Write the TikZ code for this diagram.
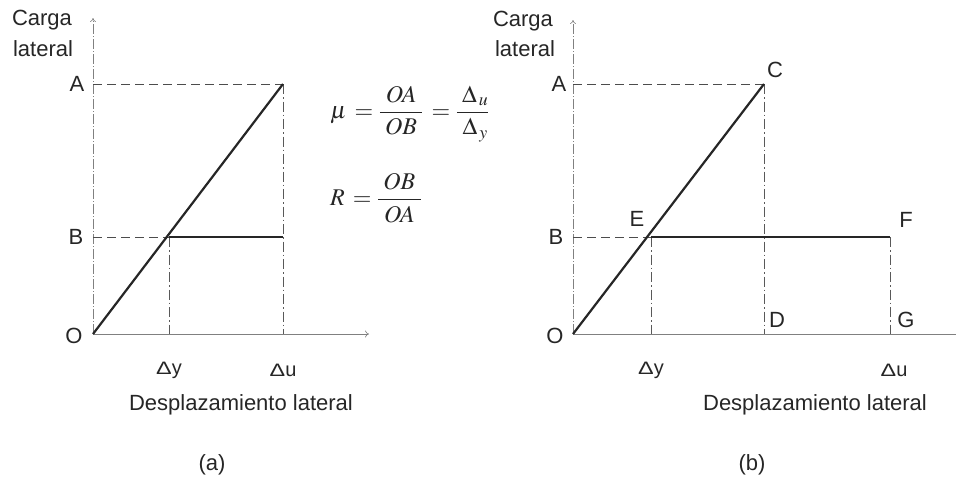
\documentclass[tikz,border=0pt]{standalone}
\usepackage{mathptmx}
\usepackage{graphicx}
\usepackage[no-math]{fontspec}
\setmainfont{Liberation Sans}
\usetikzlibrary{arrows.meta}
\newcommand{\wideDelta}{\scalebox{1.3}[1]{Δ}}
\begin{document}
\begin{tikzpicture}[x=1pt,y=-1pt,
  axis/.style={draw=black!50,line width=0.6pt},
  yaxis/.style={draw=black!50,line width=0.6pt,dash pattern=on 10pt off 2pt on 1pt off 2pt},
  guide/.style={draw=black!70,line width=0.7pt,dash pattern=on 9pt off 5pt},
  vguide/.style={draw=black!65,line width=0.7pt,dash pattern=on 10pt off 3pt on 1.5pt off 3pt},
  curve/.style={draw=black!85,line width=2.2pt},
  lbl/.style={font=\fontsize{22}{24}\selectfont,text=black!85,inner sep=0pt},
  dlbl/.style={font=\fontsize{18}{20}\selectfont,text=black!85,inner sep=0pt},
  eq/.style={font=\fontsize{24}{28}\selectfont,text=black!85,inner sep=0pt}]
\useasboundingbox (0,0) rectangle (956,480);
% ---------- panel (a)
\coordinate (aO) at (93,334);
\coordinate (aYtop) at (93,18);
\coordinate (aXend) at (369,334);
\coordinate (aA) at (93,84);
\coordinate (aB) at (93,237);
\coordinate (aC) at (283,84);
\coordinate (aE) at (169,237);
\coordinate (aF) at (283,237);
\coordinate (aDy) at (169,334);
\coordinate (aDu) at (283,334);
\draw[yaxis,-{To[length=4pt,width=6pt]}] (aO) -- (aYtop);
\draw[axis,-{To[length=4pt,width=7pt]}] (aO) -- (aXend);
\draw[guide] (aA) -- (aC);
\draw[guide] (aB) -- (aE);
\draw[vguide] (aC) -- (aDu);
\draw[vguide] (aE) -- (aDy);
\draw[curve] (aO) -- (aC);
\draw[curve] (aE) -- (aF);
\node[lbl] (aCarga) at (42,20) {Carga};
\node[lbl] (aLat) at (43,49) {lateral};
\node[lbl] (aAl) at (77,84) {A};
\node[lbl] (aBl) at (76,237) {B};
\node[lbl] (aOl) at (74,336) {O};
\node[dlbl] (aDyl) at (169,370) {\wideDelta{\fontsize{20}{20}\selectfont y}};
\node[dlbl] (aDul) at (283,370) {\wideDelta{\fontsize{20}{20}\selectfont u}};
\node[lbl] (aXl) at (241,405) {Desplazamiento lateral};
\node[lbl] (acap) at (212,465) {(a)};
\node[eq,anchor=west] (mu) at (330,114) {$\displaystyle\mu\,=\frac{\;OA\;}{\;OB\;}\,=\frac{\;\Delta_{\,u}}{\;\Delta_{\,y}}$};
\node[eq,anchor=west] (R) at (330,198) {$\displaystyle R\,=\frac{\;OB\;}{\;OA\;}$};
% ---------- panel (b)
\coordinate (bO) at (573,334);
\coordinate (bYtop) at (573,20);
\coordinate (bXend) at (956,334);
\coordinate (bA) at (573,84);
\coordinate (bB) at (573,237);
\coordinate (bC) at (764,84);
\coordinate (bE) at (651,237);
\coordinate (bF) at (890,237);
\coordinate (bD) at (764,334);
\coordinate (bG) at (890,334);
\coordinate (bDy) at (651,334);
\draw[yaxis,-{To[length=4pt,width=6pt]}] (bO) -- (bYtop);
\draw[axis] (bO) -- (bXend);
\draw[guide] (bA) -- (bC);
\draw[guide] (bB) -- (bE);
\draw[vguide] (bC) -- (bD);
\draw[vguide] (bE) -- (bDy);
\draw[vguide] (bF) -- (bG);
\draw[curve] (bO) -- (bC);
\draw[curve] (bE) -- (bF);
\node[lbl] (bCarga) at (523,21) {Carga};
\node[lbl] (bLat) at (525,49) {lateral};
\node[lbl] (bAl) at (559,84) {A};
\node[lbl] (bBl) at (556,237) {B};
\node[lbl] (bOl) at (555,336) {O};
\node[lbl] (bCl) at (775,70) {C};
\node[lbl] (bEl) at (637,219) {E};
\node[lbl] (bFl) at (906,220) {F};
\node[lbl] (bDl) at (777,320) {D};
\node[lbl] (bGl) at (906,320) {G};
\node[dlbl] (bDyl) at (651,370) {\wideDelta{\fontsize{20}{20}\selectfont y}};
\node[dlbl] (bDul) at (894,370) {\wideDelta{\fontsize{20}{20}\selectfont u}};
\node[lbl] (bXl) at (815,405) {Desplazamiento lateral};
\node[lbl] (bcap) at (752,465) {(b)};
\end{tikzpicture}
\end{document}
